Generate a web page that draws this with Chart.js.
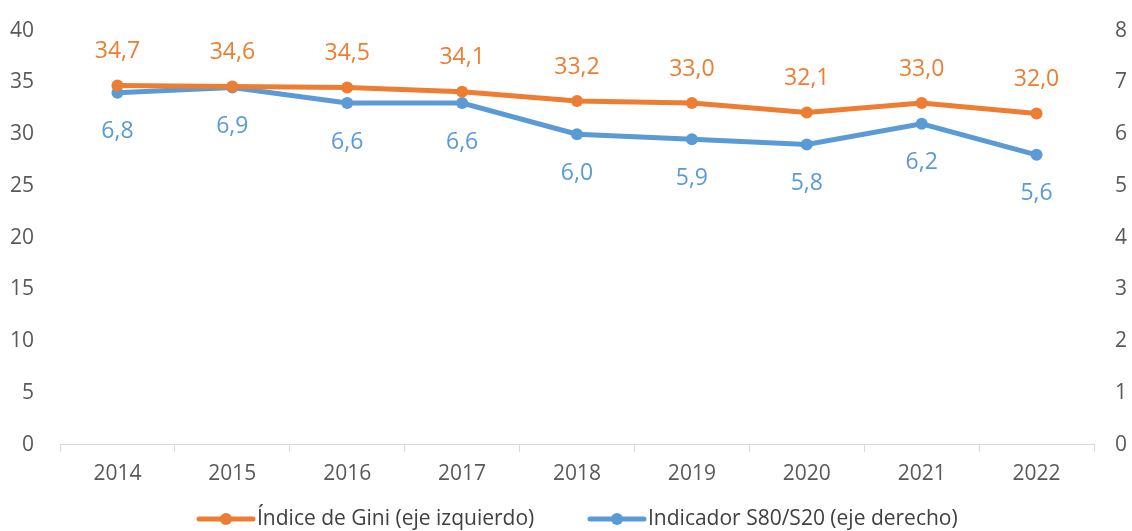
<!DOCTYPE html>
<html>
<head>
<meta charset="utf-8">
<script src="https://cdn.jsdelivr.net/npm/chart.js@4"></script>
<style>
  html, body { margin: 0; padding: 0; background: #fff; }
  #wrap { width: 1132px; height: 531px; }
</style>
</head>
<body>
<div id="wrap"><canvas id="chart" width="1132" height="531"></canvas></div>
<script>
const years = ['2014', '2015', '2016', '2017', '2018', '2019', '2020', '2021', '2022']
const gini = [34.7, 34.6, 34.5, 34.1, 33.2, 33.0, 32.1, 33.0, 32.0]
const s80s20 = [6.8, 6.9, 6.6, 6.6, 6.0, 5.9, 5.8, 6.2, 5.6]
const giniLabel = 'Índice de Gini (eje izquierdo)'
const s80Label = 'Indicador S80/S20 (eje derecho)'

const ORANGE = '#ED7D31'
const BLUE = '#5B9BD5'
const FONT = '"Open Sans", "Noto Sans", sans-serif'

// value labels: orange above, blue below
const valueLabels = {
    id: 'valueLabels',
    afterDatasetsDraw(chart) {
        const ctx = chart.ctx
        ctx.save()
        ctx.font = '23px ' + FONT
        ctx.textAlign = 'center'
        ctx.textBaseline = 'middle'
        chart.data.datasets.forEach(function(ds, i) {
            const meta = chart.getDatasetMeta(i)
            meta.data.forEach(function(pt, j) {
                const txt = ds.data[j].toFixed(1).replace('.', ',')
                ctx.fillStyle = ds.borderColor
                const dy = i === 0 ? -34 : 39
                ctx.fillText(txt, pt.x, pt.y + dy)
            })
        })
        ctx.restore()
    }
}

// legend with line + dot markers
const lineLegend = {
    id: 'lineLegend',
    afterDraw(chart) {
        const ctx = chart.ctx
        const y = 519
        const items = [
            { x: 197, color: ORANGE, text: giniLabel },
            { x: 588, color: BLUE, text: s80Label }
        ]
        ctx.save()
        ctx.font = '21px ' + FONT
        ctx.textBaseline = 'middle'
        ctx.textAlign = 'left'
        items.forEach(function(it) {
            ctx.strokeStyle = it.color
            ctx.lineWidth = 5
            ctx.lineCap = 'round'
            ctx.beginPath()
            ctx.moveTo(it.x + 2, y)
            ctx.lineTo(it.x + 56, y)
            ctx.stroke()
            ctx.fillStyle = it.color
            ctx.beginPath()
            ctx.arc(it.x + 29, y, 6, 0, Math.PI * 2)
            ctx.fill()
            ctx.fillStyle = '#404040'
            ctx.fillText(it.text, it.x + 60, y)
        })
        ctx.restore()
    }
}

const ctx = document.getElementById('chart').getContext('2d')
new Chart(ctx, {
    type: 'line',
    data: {
        labels: years,
        datasets: [
            {
                label: giniLabel,
                data: gini,
                yAxisID: 'y',
                borderColor: ORANGE,
                backgroundColor: ORANGE,
                borderWidth: 5,
                pointRadius: 6,
                pointBorderWidth: 0,
                tension: 0
            },
            {
                label: s80Label,
                data: s80s20,
                yAxisID: 'y1',
                borderColor: BLUE,
                backgroundColor: BLUE,
                borderWidth: 5,
                pointRadius: 6,
                pointBorderWidth: 0,
                tension: 0
            }
        ]
    },
    options: {
        responsive: false,
        animation: false,
        layout: { padding: { top: 7, bottom: 34, left: 0, right: 0 } },
        plugins: {
            legend: { display: false },
            tooltip: { enabled: false }
        },
        scales: {
            x: {
                offset: true,
                grid: {
                    display: true,
                    drawOnChartArea: false,
                    drawTicks: true,
                    tickLength: 7,
                    color: '#D9D9D9',
                    offset: true
                },
                border: { display: true, color: '#D9D9D9', width: 1 },
                ticks: { color: '#595959', font: { family: FONT, size: 21 }, padding: 10 }
            },
            y: {
                position: 'left',
                min: 0,
                max: 40,
                grid: { display: false },
                border: { display: false },
                ticks: { stepSize: 5, color: '#595959', font: { family: FONT, size: 21 }, padding: 18 },
                afterFit(scale) { scale.width = 60 }
            },
            y1: {
                position: 'right',
                min: 0,
                max: 8,
                grid: { display: false },
                border: { display: false },
                ticks: { stepSize: 1, color: '#595959', font: { family: FONT, size: 21 }, padding: 13 },
                afterFit(scale) { scale.width = 38 }
            }
        }
    },
    plugins: [valueLabels, lineLegend]
})
</script>
</body>
</html>
